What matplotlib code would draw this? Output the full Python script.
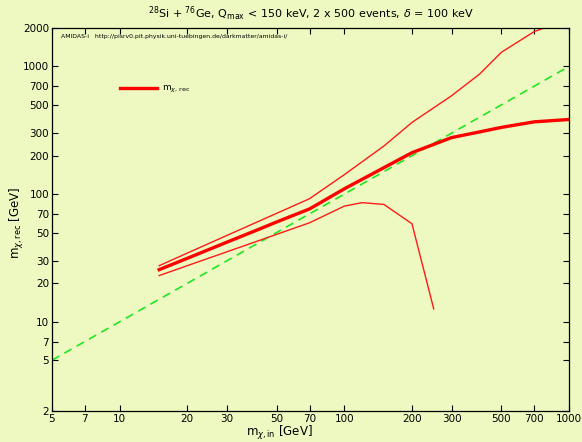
import matplotlib.pyplot as plt
from matplotlib.ticker import FixedLocator, NullLocator, FixedFormatter

# reconstructed masses (GeV)
m_in_mid = [15, 20, 30, 40, 50, 70, 100, 150, 200, 300, 400, 500, 700, 1000]
m_rec_mid = [25.6, 31.4, 42, 51.5, 60.5, 76.5, 110, 161, 211, 277, 307, 333, 368, 384]

m_in_up = [15, 20, 30, 50, 70, 100, 150, 200, 300, 400, 500, 700, 1000]
m_rec_up = [27.5, 34.5, 47.4, 70.7, 92, 142, 238, 364, 589, 871, 1290, 1875, 2340]

m_in_lo = [15, 20, 30, 50, 70, 100, 120, 150, 200, 250]
m_rec_lo = [23, 27.5, 35.3, 48.4, 59.6, 80.5, 85.7, 83, 58.6, 12.6]

diag = [5, 1000]

xticks = [5, 7, 10, 20, 30, 50, 70, 100, 200, 300, 500, 700, 1000]
yticks = [2, 5, 7, 10, 20, 30, 50, 70, 100, 200, 300, 500, 700, 1000, 2000]

bg = "#edf9c0"
fig = plt.figure(figsize=(5.82, 4.42), dpi=100, facecolor=bg)
ax = fig.add_axes([0.0893, 0.0701, 0.8884, 0.8666], facecolor=bg)

ax.plot(diag, diag, color="#22e622", lw=1.2, ls=(0, (5, 3.5)))
ax.plot(m_in_up, m_rec_up, color="#ff1a1a", lw=1.0)
ax.plot(m_in_lo, m_rec_lo, color="#ff1a1a", lw=1.0)
ax.plot(m_in_mid, m_rec_mid, color="#ff0000", lw=2.4, label=r"m$_{\chi,\,\rm rec}$")

ax.set_xscale("log")
ax.set_yscale("log")
ax.set_xlim(5, 1000)
ax.set_ylim(2, 2000)

ax.xaxis.set_major_locator(FixedLocator(xticks))
ax.xaxis.set_major_formatter(FixedFormatter([str(t) for t in xticks]))
ax.xaxis.set_minor_locator(NullLocator())
ax.yaxis.set_major_locator(FixedLocator(yticks))
ax.yaxis.set_major_formatter(FixedFormatter([str(t) for t in yticks]))
ax.yaxis.set_minor_locator(NullLocator())
ax.tick_params(direction="in", top=True, right=True, length=4, width=0.8,
               labelsize=7.5, pad=2)
for s in ax.spines.values():
    s.set_linewidth(0.9)

ax.set_xlabel(r"m$_{\chi,\rm in}$ [GeV]", fontsize=8.5)
ax.xaxis.set_label_coords(0.44, -0.035, transform=ax.transAxes)
ax.xaxis.label.set_va("top")
ax.set_ylabel(r"m$_{\chi,\rm rec}$ [GeV]", fontsize=8.5)
ax.yaxis.set_label_coords(-0.068, 0.49, transform=ax.transAxes)
ax.yaxis.label.set_va("center")
ax.set_title(r"$^{28}$Si + $^{76}$Ge, Q$_{\rm max}$ < 150 keV, 2 x 500 events, $\delta$ = 100 keV",
             fontsize=8, pad=7)

ax.text(0.018, 0.985, "AMIDAS-i   http://pisrv0.pit.physik.uni-tuebingen.de/darkmatter/amidas-i/",
        transform=ax.transAxes, fontsize=4.4, va="top", ha="left")

leg = ax.legend(loc="upper left", bbox_to_anchor=(0.115, 0.875), frameon=False,
                fontsize=6.5, handlelength=4.2, handletextpad=0.5)

fig.savefig("out.png", dpi=100, facecolor=bg)
